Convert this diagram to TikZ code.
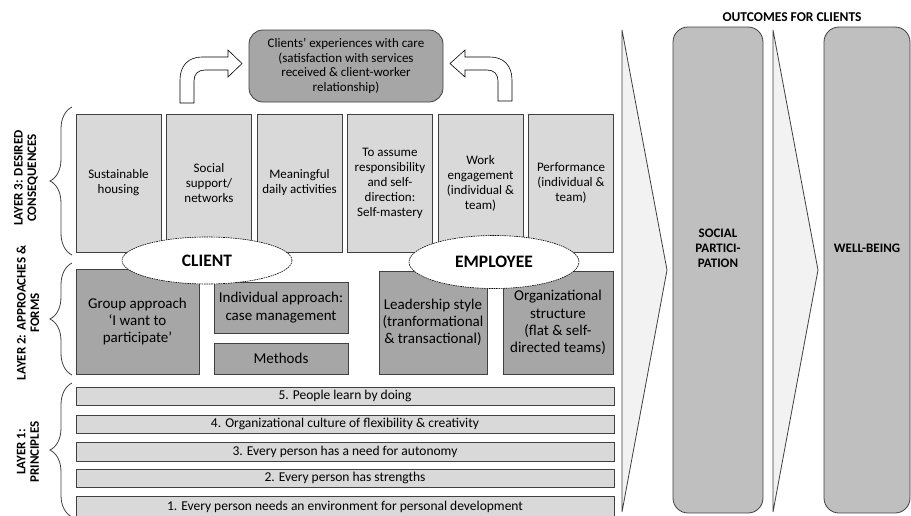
\documentclass[tikz,border=0pt]{standalone}
\usepackage{fontspec}
\setmainfont{Carlito}
\usetikzlibrary{shapes.geometric,decorations.pathreplacing}
\definecolor{lgray}{HTML}{D9D9D9}
\definecolor{mgray}{HTML}{A6A6A6}
\definecolor{ogray}{HTML}{BFBFBF}
\definecolor{cgray}{HTML}{F2F2F2}
\definecolor{edgec}{HTML}{404040}
\begin{document}
\begin{tikzpicture}[x=1pt,y=-1pt,
  lbox/.style={draw=edgec, line width=0.8pt, fill=lgray, inner sep=0pt, align=center,
    font=\fontsize{13}{15}\selectfont},
  dbox/.style={draw=edgec, line width=0.8pt, fill=mgray, inner sep=0pt, align=center,
    font=\fontsize{15}{17.2}\selectfont},
  bar/.style={draw=edgec, line width=0.8pt, fill=lgray, inner sep=0pt, align=center,
    minimum width=538pt, font=\fontsize{13.5}{15}\selectfont},
  obox/.style={draw=edgec, line width=0.8pt, fill=ogray, rounded corners=15pt, inner sep=0pt,
    minimum height=486pt},
  chev/.style={draw=edgec, line width=0.8pt, fill=cgray},
  oval/.style={ellipse, draw=black, dash pattern=on 1.6pt off 0.8pt, line width=0.6pt, fill=white,
    inner sep=0pt, font=\fontsize{17.5}{20}\selectfont\bfseries},
  bigarrow/.style={draw=black, line width=0.6pt, fill=white},
  brc/.style={decorate, decoration={brace, amplitude=22pt}, draw=edgec, line width=0.8pt},
  lbl/.style={rotate=90, align=center, font=\fontsize{13}{13.5}\selectfont\bfseries},
  otext/.style={align=center, font=\fontsize{13}{15}\selectfont\bfseries}
]
\useasboundingbox (0,0) rectangle (911,515);

% chevrons
\path[chev] (622,30) -- (667,270) -- (622,512) -- cycle;
\path[chev] (773,30) -- (818,270) -- (773,512) -- cycle;

% outcome boxes
\node[obox, minimum width=90pt] (sp) at (718,270) {};
\node[obox, minimum width=86pt] (wb) at (867,270) {};
\node[otext] (spt) at (718,248) {SOCIAL\\PARTICI-\\PATION};
\node[otext] (wbt) at (867,248) {WELL-BEING};
\node[otext, font=\fontsize{13.5}{15}\selectfont\bfseries] (oc) at (792,17) {OUTCOMES FOR CLIENTS};

% top box
\node[draw=edgec, line width=0.8pt, fill=mgray, rounded corners=14pt, minimum width=194pt,
  minimum height=72pt, inner sep=0pt, align=center, font=\fontsize{13}{14.6}\selectfont]
  (exp) at (346,66) {Clients’ experiences with care\\(satisfaction with services\\received \& client-worker\\relationship)};

% curved block arrows
\path[bigarrow] (180,103) -- (180,80) .. controls (180,66) and (188,57) .. (202,57) -- (228,57)
  -- (228,50) -- (242,63.5) -- (228,77) -- (228,70) -- (205,70)
  .. controls (198,70) and (194,74) .. (194,81) -- (194,103) -- cycle;
\path[bigarrow] (512,101) -- (512,80) .. controls (512,66) and (504,57) .. (490,57) -- (465,57)
  -- (465,50) -- (450,63.5) -- (465,77) -- (465,70) -- (487,70)
  .. controls (494,70) and (498,74) .. (498,81) -- (498,101) -- cycle;

% layer 3 boxes
\foreach \i/\x/\t in {1/118.5/{Sustainable\\housing},
  2/209/{Social\\support/\\networks},
  3/299.5/{Meaningful\\daily activities},
  4/390/{To assume\\responsibility\\and self-\\direction:\\Self-mastery},
  5/480.5/{Work\\engagement\\(individual \&\\team)},
  6/571/{Performance\\(individual \&\\team)}}
  \node[lbox, minimum width=85pt, minimum height=138pt] (c\i) at (\x,183) {\t};

% layer 2 boxes
\node[dbox, minimum width=123pt, minimum height=105pt] (grp) at (137.5,321.5)
  {Group approach\\‘I want to\\participate’};
\node[dbox, minimum width=134pt, minimum height=51pt] (ind) at (281,307.5)
  {Individual approach:\\case management};
\node[dbox, minimum width=134pt, minimum height=31pt] (met) at (281,358.5) {Methods};
\node[dbox, minimum width=108pt, minimum height=103pt] (lead) at (433,322.5)
  {Leadership style\\(tranformational\\\& transactional)};
\node[dbox, minimum width=110pt, minimum height=103pt] (org) at (558,322.5)
  {Organizational\\structure\\(flat \& self-\\directed teams)};

% ellipses
\node[oval, minimum width=170pt, minimum height=47pt] (cl) at (207,260.5) {CLIENT};
\node[oval, minimum width=170pt, minimum height=53pt] (em) at (494,262) {EMPLOYEE};

% layer 1 bars
\node[bar, minimum height=18pt] (p5) at (345,396) {5. People learn by doing};
\node[bar, minimum height=18pt] (p4) at (345,424) {4. Organizational culture of flexibility \& creativity};
\node[bar, minimum height=19pt] (p3) at (345,451.5) {3. Every person has a need for autonomy};
\node[bar, minimum height=18pt] (p2) at (345,478) {2. Every person has strengths};
\node[bar, minimum height=22pt] (p1) at (345,507) {1. Every person needs an environment for personal development};

% braces
\draw[brc] (72,255) -- (72,107);
\draw[brc] (72,375) -- (72,263);
\draw[brc] (72,517) -- (72,383);

% layer labels
\node[lbl] (l3) at (26,178) {LAYER 3: DESIRED\\CONSEQUENCES};
\node[lbl] (l2) at (28,313) {LAYER 2: APPROACHES \&\\FORMS};
\node[lbl] (l1) at (28,452) {LAYER 1:\\PRINCIPLES};
\end{tikzpicture}
\end{document}
